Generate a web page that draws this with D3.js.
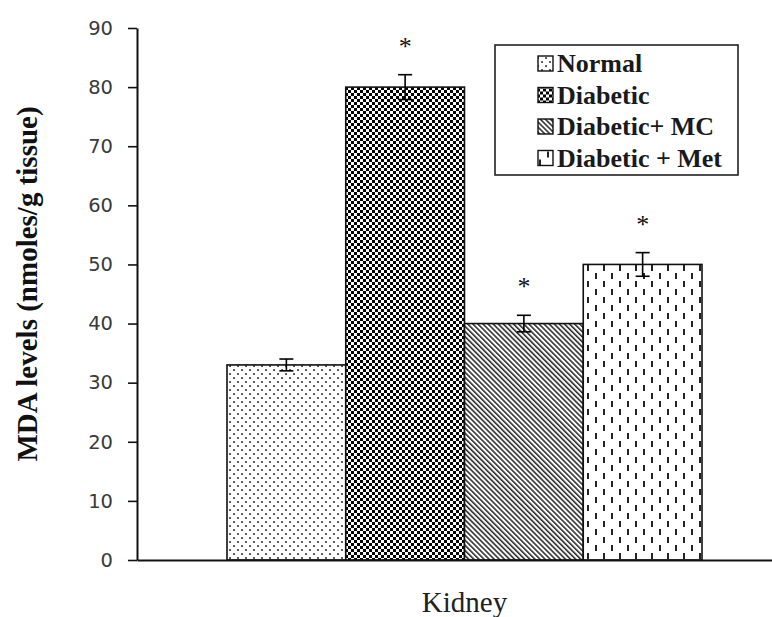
<!DOCTYPE html>
<html>
<head>
<meta charset="utf-8">
<script src="https://cdn.jsdelivr.net/npm/d3@7"></script>
<style>
html,body{margin:0;padding:0;background:#fff;}
svg{display:block;}
</style>
</head>
<body>
<script>
// ---- data ----
const categories = ["Kidney"];
const series = ["Normal", "Diabetic", "Diabetic+ MC", "Diabetic + Met"];
const values = [33, 80, 40, 50];
const errors = [1.0, 2.1, 1.4, 2.0];
const significant = [false, true, true, true];
const yTicks = [0, 10, 20, 30, 40, 50, 60, 70, 80, 90];
const yLabel = "MDA levels (nmoles/g tissue)";

const W = 772, H = 617;
const svg = d3.select("body").append("svg").attr("width", W).attr("height", H);
const defs = svg.append("defs");

// patterns
const pNormal = defs.append("pattern").attr("id","pNormal").attr("patternUnits","userSpaceOnUse")
  .attr("width",8).attr("height",8);
pNormal.append("rect").attr("width",8).attr("height",8).attr("fill","#fff");
pNormal.append("rect").attr("x",1.2).attr("y",1.2).attr("width",1.7).attr("height",1.7).attr("fill","#222");
pNormal.append("rect").attr("x",5.2).attr("y",5.2).attr("width",1.7).attr("height",1.7).attr("fill","#222");

const pDiab = defs.append("pattern").attr("id","pDiab").attr("patternUnits","userSpaceOnUse")
  .attr("width",6).attr("height",6);
pDiab.append("rect").attr("width",6).attr("height",6).attr("fill","#fff");
pDiab.append("rect").attr("x",0).attr("y",0).attr("width",3).attr("height",3).attr("fill","#000");
pDiab.append("rect").attr("x",3).attr("y",3).attr("width",3).attr("height",3).attr("fill","#000");

const pMC = defs.append("pattern").attr("id","pMC").attr("patternUnits","userSpaceOnUse")
  .attr("width",3.6).attr("height",10).attr("patternTransform","rotate(-45)");
pMC.append("rect").attr("width",3.6).attr("height",10).attr("fill","#fff");
pMC.append("line").attr("x1",0.8).attr("x2",0.8).attr("y1",0).attr("y2",10).attr("stroke","#111").attr("stroke-width",1.4);

const pMet = defs.append("pattern").attr("id","pMet").attr("patternUnits","userSpaceOnUse")
  .attr("width",16).attr("height",16);
pMet.append("rect").attr("width",16).attr("height",16).attr("fill","#fff");
pMet.append("rect").attr("x",3).attr("y",1).attr("width",2).attr("height",6).attr("fill","#222");
pMet.append("rect").attr("x",11).attr("y",9).attr("width",2).attr("height",6).attr("fill","#222");

const fills = ["url(#pNormal)","url(#pDiab)","url(#pMC)","url(#pMet)"];

// scales
const y = d3.scaleLinear().domain([0, 90]).range([560, 28]);
const x = d3.scaleBand().domain(series).range([227, 702]).padding(0);
const xAxisScale = d3.scaleBand().domain(categories).range([137, 772]);

// bars
const g = svg.append("g");
g.selectAll("rect.bar").data(series).enter().append("rect")
  .attr("class","bar")
  .attr("x", d => x(d))
  .attr("width", x.bandwidth())
  .attr("y", (d,i) => y(values[i]))
  .attr("height", (d,i) => y(0) - y(values[i]))
  .attr("fill", (d,i) => fills[i])
  .attr("stroke","#111").attr("stroke-width",1.6);

// error bars
const eb = g.selectAll("g.err").data(series).enter().append("g").attr("class","err");
const cx = d => x(d) + x.bandwidth()/2;
eb.append("line").attr("x1",cx).attr("x2",cx)
  .attr("y1",(d,i)=>y(values[i]-errors[i])).attr("y2",(d,i)=>y(values[i]+errors[i]))
  .attr("stroke","#000").attr("stroke-width",1.6);
eb.append("line").attr("x1",d=>cx(d)-7).attr("x2",d=>cx(d)+7)
  .attr("y1",(d,i)=>y(values[i]+errors[i])).attr("y2",(d,i)=>y(values[i]+errors[i]))
  .attr("stroke","#000").attr("stroke-width",1.6);
eb.append("line").attr("x1",d=>cx(d)-7).attr("x2",d=>cx(d)+7)
  .attr("y1",(d,i)=>y(values[i]-errors[i])).attr("y2",(d,i)=>y(values[i]-errors[i]))
  .attr("stroke","#000").attr("stroke-width",1.6);

// asterisks
g.selectAll("text.star").data(series.filter((d,i)=>significant[i])).enter().append("text")
  .attr("class","star")
  .attr("x", d => cx(d))
  .attr("y", d => { const i = series.indexOf(d); return y(values[i]+errors[i]) - 20; })
  .attr("text-anchor","middle")
  .attr("font-family","'Liberation Serif', serif")
  .attr("font-size",26)
  .attr("fill","#111")
  .text("*");

// y axis
const yAxis = d3.axisLeft(y).tickValues(yTicks).tickSize(9).tickSizeOuter(0).tickPadding(15);
const ya = svg.append("g").attr("transform","translate(137,0)").call(yAxis);
ya.select(".domain").attr("stroke","#111").attr("stroke-width",2);
ya.selectAll(".tick line").attr("stroke","#111").attr("stroke-width",1.6);
ya.selectAll(".tick text").attr("font-family","'DejaVu Sans', sans-serif").attr("font-size",19.5).attr("fill","#3a3a3a");

// x axis
const xAxis = d3.axisBottom(xAxisScale).tickSize(0).tickSizeOuter(0).tickFormat("");
const xa = svg.append("g").attr("transform","translate(0,560)").call(xAxis);
xa.select(".domain").attr("stroke","#111").attr("stroke-width",2);

// x category label
svg.append("text")
  .attr("x", (x.range()[0] + x.range()[1]) / 2)
  .attr("y", 612)
  .attr("text-anchor","middle")
  .attr("font-family","'Liberation Serif', serif")
  .attr("font-size",29)
  .attr("fill","#222")
  .text(categories[0]);

// y label
svg.append("text")
  .attr("transform","translate(37,284) rotate(-90)")
  .attr("text-anchor","middle")
  .attr("font-family","'Liberation Serif', serif")
  .attr("font-weight","bold")
  .attr("font-size",29)
  .attr("fill","#111")
  .text(yLabel);

// legend
const lg = svg.append("g");
lg.append("rect").attr("x",495).attr("y",45).attr("width",243).attr("height",130)
  .attr("fill","#fff").attr("stroke","#222").attr("stroke-width",1.6);
const li = lg.selectAll("g.li").data(series).enter().append("g").attr("class","li")
  .attr("transform",(d,i)=>`translate(0,${72 + i*31.5})`);
li.append("rect").attr("x",538).attr("y",-16).attr("width",15).attr("height",15)
  .attr("fill",(d,i)=>fills[i]).attr("stroke","#111").attr("stroke-width",1.4);
li.append("text").attr("x",557).attr("y",0)
  .attr("font-family","'Liberation Serif', serif")
  .attr("font-weight","bold")
  .attr("font-size",26)
  .attr("fill","#1a1a1a")
  .text(d=>d);
</script>
</body>
</html>
